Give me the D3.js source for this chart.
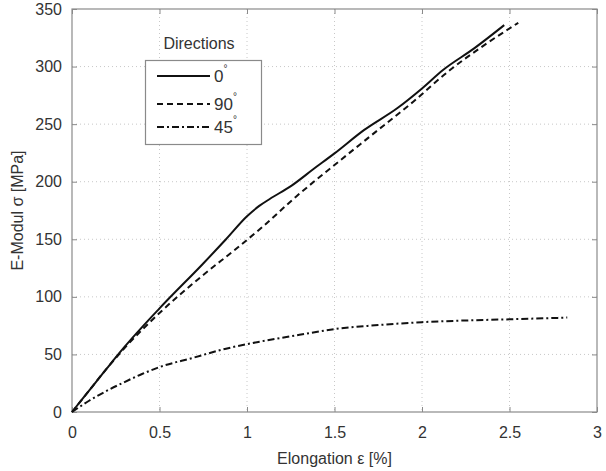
<!DOCTYPE html>
<html>
<head>
<meta charset="utf-8">
<script src="https://cdn.jsdelivr.net/npm/d3@7"></script>
<style>
  html, body { margin: 0; padding: 0; background: #fff; }
  svg { display: block; font-family: "Liberation Sans", Arial, sans-serif; }
</style>
</head>
<body>
<svg id="chart" width="606" height="471"></svg>
<script>
// Stress–strain curves for three fibre directions
const strain0  = [0, 0.1, 0.2, 0.3, 0.5, 0.75, 0.88, 1.0, 1.07, 1.13, 1.255, 1.38, 1.5, 1.67, 1.86, 2.0, 2.12, 2.3, 2.47];
const stress0  = [0, 19, 38, 56.5, 90, 129, 150, 170, 179, 185, 196.6, 211, 224.6, 245, 264, 281, 297, 316, 336];

const strain90 = [0, 0.1, 0.2, 0.3, 0.5, 0.75, 0.94, 1.09, 1.28, 1.5, 1.7, 1.95, 2.16, 2.35, 2.55];
const stress90 = [0, 19, 38, 55.5, 86, 119, 142, 161, 187, 214.5, 239, 269.5, 297, 318, 338];

const strain45 = [0, 0.1, 0.2, 0.3, 0.4, 0.5, 0.69, 0.88, 1.07, 1.3, 1.5, 1.75, 2.0, 2.25, 2.5, 2.83];
const stress45 = [0, 10, 18.5, 26, 33, 39, 47, 55, 61, 67, 72, 75.5, 78, 79.5, 80.5, 82];

const seriesNames = ["0", "90", "45"];
const xTicks = [0, 0.5, 1, 1.5, 2, 2.5, 3];
const yTicks = [0, 50, 100, 150, 200, 250, 300, 350];

const xLabel = "Elongation \u03b5 [%]";
const yLabel = "E-Modul \u03c3 [MPa]";
const legendTitle = "Directions";

const svg = d3.select("#chart");
const plotL = 72, plotR = 597, plotT = 9, plotB = 412;

const x = d3.scaleLinear().domain([0, 3]).range([plotL, plotR]);
const y = d3.scaleLinear().domain([0, 350]).range([plotB, plotT]);

const textColor = "#333";
const frameColor = "#8a8a8a";
const fontSize = 16;

// dotted grid
const grid = svg.append("g");
grid.selectAll("line.gx").data(xTicks.slice(1, -1)).enter().append("line")
  .attr("x1", d => x(d)).attr("x2", d => x(d)).attr("y1", plotT).attr("y2", plotB)
  .attr("stroke", "#c8c8c8").attr("stroke-width", 1).attr("stroke-dasharray", "1,3");
grid.selectAll("line.gy").data(yTicks.slice(1, -1)).enter().append("line")
  .attr("x1", plotL).attr("x2", plotR).attr("y1", d => y(d)).attr("y2", d => y(d))
  .attr("stroke", "#c8c8c8").attr("stroke-width", 1).attr("stroke-dasharray", "1,3");

// axes with inward ticks on all four sides
function styleAxis(g) {
  g.select(".domain").remove();
  g.selectAll(".tick line").attr("stroke", frameColor).attr("stroke-width", 1);
  g.selectAll(".tick text").attr("fill", textColor).attr("font-size", fontSize)
    .attr("font-family", "Liberation Sans, Arial, sans-serif");
}
svg.append("g").attr("transform", `translate(0,${plotB})`)
  .call(d3.axisBottom(x).tickValues(xTicks).tickFormat(d3.format("~g")).tickSizeInner(-5).tickSizeOuter(0).tickPadding(15))
  .call(styleAxis);
svg.append("g").attr("transform", `translate(${plotL},0)`)
  .call(d3.axisLeft(y).tickValues(yTicks).tickFormat(d3.format("d")).tickSizeInner(-5).tickSizeOuter(0).tickPadding(10))
  .call(styleAxis);
svg.append("g").attr("transform", `translate(0,${plotT})`)
  .call(d3.axisTop(x).tickValues(xTicks).tickFormat("").tickSizeInner(-5).tickSizeOuter(0))
  .call(styleAxis);
svg.append("g").attr("transform", `translate(${plotR},0)`)
  .call(d3.axisRight(y).tickValues(yTicks).tickFormat("").tickSizeInner(-5).tickSizeOuter(0))
  .call(styleAxis);

// plot frame
svg.append("rect").attr("x", plotL).attr("y", plotT).attr("width", plotR - plotL).attr("height", plotB - plotT)
  .attr("fill", "none").attr("stroke", frameColor).attr("stroke-width", 1.2);

// curves
const series = [
  { name: seriesNames[0], xs: strain0,  ys: stress0,  dash: null },
  { name: seriesNames[1], xs: strain90, ys: stress90, dash: "6,4" },
  { name: seriesNames[2], xs: strain45, ys: stress45, dash: "7,3,2,3" }
];
const line = d3.line().x(d => x(d[0])).y(d => y(d[1])).curve(d3.curveMonotoneX);
series.forEach(s => {
  svg.append("path")
    .datum(s.xs.map((v, i) => [v, s.ys[i]]))
    .attr("d", line)
    .attr("fill", "none").attr("stroke", "#111").attr("stroke-width", 2)
    .attr("stroke-dasharray", s.dash);
});

// axis titles
svg.append("text").attr("x", (plotL + plotR) / 2).attr("y", 464).attr("text-anchor", "middle")
  .attr("font-size", fontSize).attr("fill", textColor).text(xLabel);
svg.append("text").attr("transform", `translate(23,${(plotT + plotB) / 2}) rotate(-90)`)
  .attr("text-anchor", "middle").attr("font-size", fontSize).attr("fill", textColor).text(yLabel);

// legend
svg.append("text").attr("x", 199).attr("y", 49).attr("text-anchor", "middle")
  .attr("font-size", fontSize).attr("fill", textColor).text(legendTitle);
svg.append("rect").attr("x", 145.5).attr("y", 60.5).attr("width", 116).attr("height", 84)
  .attr("fill", "#fff").attr("stroke", frameColor).attr("stroke-width", 1.2);
const rowY = [76, 104, 127];
series.forEach((s, i) => {
  svg.append("line").attr("x1", 157).attr("x2", 210).attr("y1", rowY[i]).attr("y2", rowY[i])
    .attr("stroke", "#111").attr("stroke-width", 2).attr("stroke-dasharray", s.dash);
  const t = svg.append("text").attr("x", 214).attr("y", rowY[i] + 6)
    .attr("font-size", 17).attr("fill", textColor);
  t.append("tspan").text(s.name);
  t.append("tspan").attr("font-size", 10).attr("dy", -10).text("\u00b0");
});
</script>
</body>
</html>
